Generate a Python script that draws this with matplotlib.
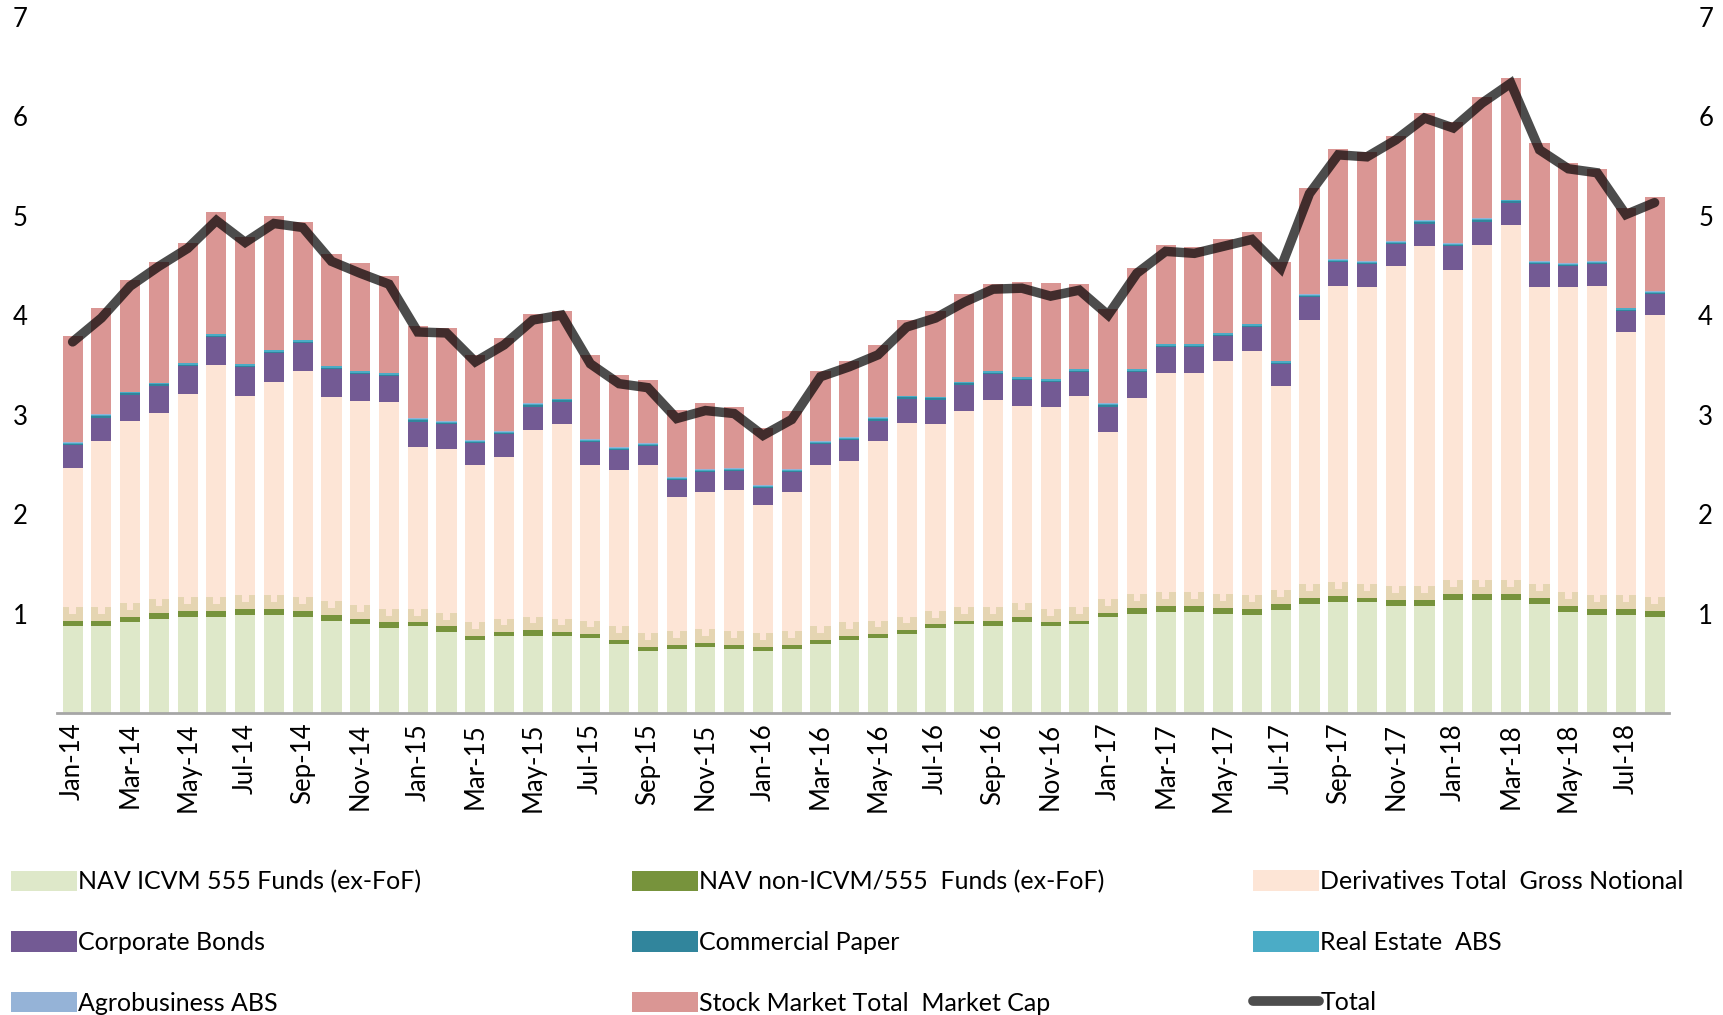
import numpy as np
import pandas as pd
import matplotlib
matplotlib.use('Agg')
import matplotlib.pyplot as plt
from matplotlib.patches import Patch
from matplotlib.lines import Line2D

plt.rcParams['font.family'] = ['Lato', 'DejaVu Sans']

# months Jan-14 .. Aug-18
months = pd.date_range('2014-01-01', periods=56, freq='MS').strftime('%b-%y').tolist()

icvm = [0.87, 0.87, 0.91, 0.95, 0.97, 0.97, 0.99, 0.99, 0.97, 0.93, 0.89, 0.85, 0.87, 0.81,
        0.73, 0.77, 0.77, 0.77, 0.75, 0.69, 0.62, 0.64, 0.66, 0.64, 0.62, 0.64, 0.69, 0.73,
        0.75, 0.79, 0.85, 0.89, 0.87, 0.91, 0.87, 0.89, 0.97, 1.00, 1.02, 1.02, 1.00, 0.99,
        1.04, 1.10, 1.12, 1.12, 1.08, 1.08, 1.14, 1.14, 1.14, 1.10, 1.02, 0.99, 0.99, 0.97]
non_icvm = [0.06, 0.06, 0.06, 0.06, 0.06, 0.06, 0.06, 0.06, 0.06, 0.06, 0.06, 0.06, 0.04, 0.06,
            0.04, 0.04, 0.06, 0.04, 0.04, 0.04, 0.04, 0.04, 0.04, 0.04, 0.04, 0.04, 0.04, 0.04,
            0.04, 0.04, 0.04, 0.04, 0.06, 0.06, 0.04, 0.04, 0.04, 0.06, 0.06, 0.06, 0.06, 0.06,
            0.06, 0.06, 0.06, 0.04, 0.06, 0.06, 0.06, 0.06, 0.06, 0.06, 0.06, 0.06, 0.06, 0.06]
derivatives = [1.53, 1.80, 1.97, 2.01, 2.18, 2.47, 2.14, 2.28, 2.41, 2.19, 2.19, 2.22, 1.76, 1.78,
               1.72, 1.76, 2.01, 2.09, 1.70, 1.71, 1.83, 1.49, 1.52, 1.56, 1.43, 1.54, 1.76, 1.76,
               1.94, 2.09, 2.01, 2.11, 2.22, 2.12, 2.17, 2.26, 1.81, 2.11, 2.34, 2.34, 2.48, 2.59,
               2.19, 2.79, 3.11, 3.12, 3.35, 3.55, 3.25, 3.50, 3.70, 3.12, 3.20, 3.24, 2.78, 2.97]
corp_bonds = [0.23, 0.24, 0.26, 0.27, 0.28, 0.28, 0.29, 0.29, 0.28, 0.28, 0.27, 0.26, 0.26, 0.25,
              0.22, 0.23, 0.24, 0.23, 0.23, 0.20, 0.19, 0.17, 0.20, 0.19, 0.17, 0.20, 0.21, 0.21,
              0.21, 0.24, 0.25, 0.26, 0.26, 0.26, 0.25, 0.24, 0.26, 0.26, 0.26, 0.26, 0.25, 0.24,
              0.22, 0.23, 0.24, 0.23, 0.22, 0.23, 0.24, 0.24, 0.23, 0.23, 0.21, 0.22, 0.21, 0.21]
comm_paper = [0.012] * 56
real_estate = [0.014] * 56
agro = [0.005] * 56
stock = [1.07, 1.07, 1.12, 1.21, 1.20, 1.22, 1.27, 1.34, 1.18, 1.12, 1.08, 0.97, 0.93, 0.94,
         0.86, 0.94, 0.90, 0.88, 0.85, 0.73, 0.64, 0.67, 0.66, 0.61, 0.57, 0.58, 0.71, 0.77,
         0.73, 0.76, 0.86, 0.88, 0.87, 0.95, 0.96, 0.85, 0.95, 1.01, 0.99, 0.97, 0.94, 0.92,
         0.99, 1.07, 1.11, 1.10, 1.06, 1.08, 1.22, 1.22, 1.22, 1.19, 1.01, 0.93, 1.00, 0.95]
total = [3.73, 3.97, 4.29, 4.49, 4.67, 4.95, 4.73, 4.92, 4.88, 4.54, 4.42, 4.31, 3.83, 3.82,
         3.53, 3.70, 3.95, 4.00, 3.51, 3.31, 3.27, 2.96, 3.04, 3.01, 2.79, 2.95, 3.38, 3.48,
         3.60, 3.88, 3.97, 4.13, 4.26, 4.27, 4.19, 4.25, 4.00, 4.42, 4.64, 4.62, 4.69, 4.76,
         4.47, 5.22, 5.61, 5.59, 5.76, 5.98, 5.88, 6.13, 6.33, 5.66, 5.47, 5.43, 5.01, 5.13]

series = [
    ('NAV ICVM 555 Funds (ex-FoF)', icvm, '#dee8c9'),
    ('NAV non-ICVM/555  Funds (ex-FoF)', non_icvm, '#77933c'),
    ('Derivatives Total  Gross Notional', derivatives, '#fde5d6'),
    ('Corporate Bonds', corp_bonds, '#735a94'),
    ('Commercial Paper', comm_paper, '#31859c'),
    ('Real Estate  ABS', real_estate, '#4bacc6'),
    ('Agrobusiness ABS', agro, '#95b3d7'),
    ('Stock Market Total  Market Cap', stock, '#da9694'),
]

fig = plt.figure(figsize=(17.24, 10.15), dpi=100)
ax = fig.add_axes([0.0331, 0.2975, 0.935, 0.6862])

x = np.arange(len(months))
w = 0.7
bottom = np.zeros(len(months))
for name, vals, col in series:
    vals = np.array(vals)
    ax.bar(x, vals, w, bottom=bottom, color=col, edgecolor='none', zorder=2)
    if name.startswith('Derivatives'):
        # tan band at the foot of the derivatives bar (as rendered in the source)
        band = 0.14
        ax.bar(x, band, w, bottom=bottom, color='#e5d5b2', edgecolor='none', zorder=3)
        ax.bar(x, band * 0.5, w * 0.33, bottom=bottom + band * 0.5, color='#fde5d6',
               edgecolor='none', zorder=3)
    bottom += vals

ax.plot(x, total, color='black', alpha=0.7, lw=6.8, solid_capstyle='round',
        solid_joinstyle='miter', zorder=4)

ax.set_xlim(-0.54, 55.5)
ax.set_ylim(0, 7)
for s in ['top', 'left', 'right']:
    ax.spines[s].set_visible(False)
ax.spines['bottom'].set_color('#a6a6a6')
ax.spines['bottom'].set_linewidth(2)
ax.spines['bottom'].set_zorder(5)

fs = 18.5
ax.set_xticks(x[::2])
ax.set_xticklabels(months[::2], rotation=90, fontsize=fs)
ax.set_yticks(range(1, 8))
ax.tick_params(axis='both', length=0, labelsize=fs)
ax.tick_params(axis='x', pad=7)
ax.yaxis.set_tick_params(labelright=True)
for t in ax.yaxis.get_major_ticks():
    t.set_pad(21)

# legend: three columns laid out row by row
cols = [
    [series[0], series[3], series[6]],
    [series[1], series[4], series[7]],
    [series[2], series[5], None],
]
lfs = 18
col_x = [11 / 1724, 632 / 1724, 1253 / 1724]
for cx, items in zip(col_x, cols):
    handles, labels = [], []
    for it in items:
        if it is None:
            handles.append(Line2D([0], [0], color='#4d4d4d', lw=7, solid_capstyle='round'))
            labels.append('Total')
        else:
            handles.append(Patch(facecolor=it[2], edgecolor='none'))
            labels.append(it[0])
    fig.legend(handles, labels, loc='upper left', bbox_to_anchor=(cx, 0.1425),
               frameon=False, fontsize=lfs, handlelength=2.65, handleheight=0.9,
               handletextpad=0.05, labelspacing=1.5, borderpad=0, borderaxespad=0)

fig.savefig('out.png', dpi=100)
